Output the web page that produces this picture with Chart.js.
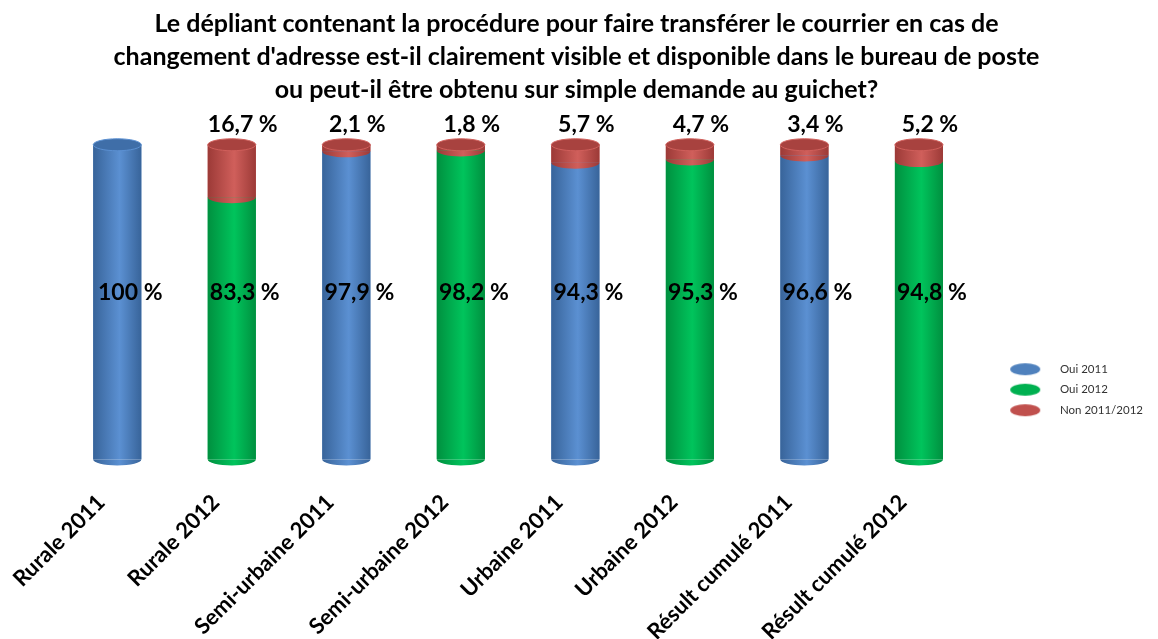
<!DOCTYPE html>
<html>
  <head>
    <title>Dépliant changement d'adresse</title>
    <script src="https://cdn.jsdelivr.net/npm/chart.js@4.4.1/dist/chart.umd.min.js"></script>
    <style>
      html, body { margin: 0; padding: 0; background: #fff; }
      #container { width: 1158px; height: 639px; }
    </style>
  </head>
  <body>
    <div id="container">
      <canvas id="canvas"></canvas>
    </div>
    <script>
      // data
      const categories = [
        'Rurale 2011', 'Rurale 2012', 'Semi-urbaine 2011', 'Semi-urbaine 2012',
        'Urbaine 2011', 'Urbaine 2012', 'Résult cumulé 2011', 'Résult cumulé 2012',
      ];
      const oui2011 = [100, null, 97.9, null, 94.3, null, 96.6, null];
      const oui2012 = [null, 83.3, null, 98.2, null, 95.3, null, 94.8];
      const non = [0, 16.7, 2.1, 1.8, 5.7, 4.7, 3.4, 5.2];
      const seriesNames = ['Oui 2011', 'Oui 2012', 'Non 2011/2012'];

      const titleLines = [
        'Le dépliant contenant la procédure pour faire transférer le courrier en cas de',
        "changement d'adresse est-il clairement visible et disponible dans le bureau de poste",
        'ou peut-il être obtenu sur simple demande au guichet?',
      ];

      // colour sets: edge, centre, top cap
      const shades = [
        { base: '#4f81bd', edge: '#38649a', mid: '#5b90d2', cap: '#3f6ea8' },
        { base: '#00b050', edge: '#00903f', mid: '#00c45c', cap: '#00a048' },
        { base: '#c0504d', edge: '#9c3a37', mid: '#d05f5b', cap: '#a8423f' },
      ];

      const FONT = 'Lato, "Open Sans", sans-serif';
      const RY = 6; // half height of cylinder ellipses

      function fmt(v) {
        return String(v).replace('.', ',') + ' %';
      }

      function sideGradient(ctx, x, w, s) {
        const g = ctx.createLinearGradient(x - w / 2, 0, x + w / 2, 0);
        g.addColorStop(0, s.edge);
        g.addColorStop(0.55, s.mid);
        g.addColorStop(1, s.edge);
        return g;
      }

      function legendMark(color) {
        const c = document.createElement('canvas');
        c.width = 69;
        c.height = 14;
        const g = c.getContext('2d');
        g.fillStyle = color;
        g.beginPath();
        g.ellipse(40, 7, 15, 6, 0, 0, Math.PI * 2);
        g.fill();
        return c;
      }

      // paint bars as cylinders on top of the library's bar elements
      const cylinders = {
        id: 'cylinders',
        afterDatasetsDraw(chart) {
          const ctx = chart.ctx;
          const tops = [];
          ctx.save();
          chart.data.datasets.forEach((ds, di) => {
            const meta = chart.getDatasetMeta(di);
            const s = shades[di];
            meta.data.forEach((bar, i) => {
              const v = ds.data[i];
              if (!v) return;
              const { x, y, base, width } = bar.getProps(['x', 'y', 'base', 'width'], true);
              ctx.fillStyle = sideGradient(ctx, x, width, s);
              ctx.fillRect(x - width / 2, y, width, base - y);
              ctx.beginPath();
              ctx.ellipse(x, base, width / 2, RY, 0, 0, Math.PI);
              ctx.fill();
              tops[i] = { x, y, width, s };
            });
          });
          tops.forEach((t) => {
            if (!t) return;
            ctx.fillStyle = t.s.cap;
            ctx.strokeStyle = t.s.mid;
            ctx.lineWidth = 1;
            ctx.beginPath();
            ctx.ellipse(t.x, t.y, t.width / 2, RY, 0, 0, Math.PI * 2);
            ctx.fill();
            ctx.stroke();
          });

          // value labels
          const yScale = chart.scales.y;
          ctx.fillStyle = '#000';
          ctx.font = 'bold 23px ' + FONT;
          ctx.textAlign = 'center';
          ctx.textBaseline = 'middle';
          tops.forEach((t, i) => {
            if (!t) return;
            const oui = oui2011[i] != null ? oui2011[i] : oui2012[i];
            ctx.fillText(fmt(oui), t.x + 13, yScale.getPixelForValue(53));
            if (non[i]) ctx.fillText(fmt(non[i]), t.x + 11, t.y - 20);
          });
          ctx.restore();
        },
      };

      window.onload = () => {
        const ctx = document.getElementById('canvas').getContext('2d');
        window.myBar = new Chart(ctx, {
          type: 'bar',
          data: {
            labels: categories,
            datasets: [oui2011, oui2012, non].map((d, i) => ({
              label: seriesNames[i],
              data: d,
              backgroundColor: shades[i].base,
              borderWidth: 0,
              categoryPercentage: 1,
              barPercentage: 0.42,
            })),
          },
          options: {
            responsive: true,
            maintainAspectRatio: false,
            animation: false,
            layout: {
              padding: { top: 0, left: 0, right: 5, bottom: -28 },
            },
            plugins: {
              title: {
                display: true,
                text: titleLines,
                color: '#000',
                font: { family: FONT, size: 25, weight: 'bold', lineHeight: 1.33 },
                padding: { top: 7, bottom: 38 },
              },
              legend: {
                position: 'right',
                align: 'center',
                title: { display: true, text: ' ', padding: { top: 98 } },
                labels: {
                  usePointStyle: true,
                  pointStyleWidth: 69,
                  boxHeight: 12,
                  padding: 9,
                  color: '#333',
                  font: { family: FONT, size: 11.5 },
                  generateLabels: (chart) =>
                    chart.data.datasets.map((ds, i) => ({
                      text: ds.label,
                      pointStyle: legendMark(shades[i].base),
                      fillStyle: shades[i].base,
                      strokeStyle: 'transparent',
                      lineWidth: 0,
                      fontColor: '#333',
                      datasetIndex: i,
                    })),
                },
              },
              tooltip: { enabled: false },
            },
            scales: {
              x: {
                stacked: true,
                grid: { display: false },
                border: { display: false },
                ticks: {
                  color: '#000',
                  minRotation: 45,
                  maxRotation: 45,
                  padding: 22,
                  labelOffset: -16,
                  font: { family: FONT, size: 22, weight: 'bold' },
                },
              },
              y: {
                stacked: true,
                min: 0,
                max: 100,
                grid: { display: false },
                border: { display: false },
                ticks: { display: false },
                afterFit: (scale) => { scale.width = 60; },
              },
            },
          },
          plugins: [cylinders],
        });
      };
    </script>
  </body>
</html>
